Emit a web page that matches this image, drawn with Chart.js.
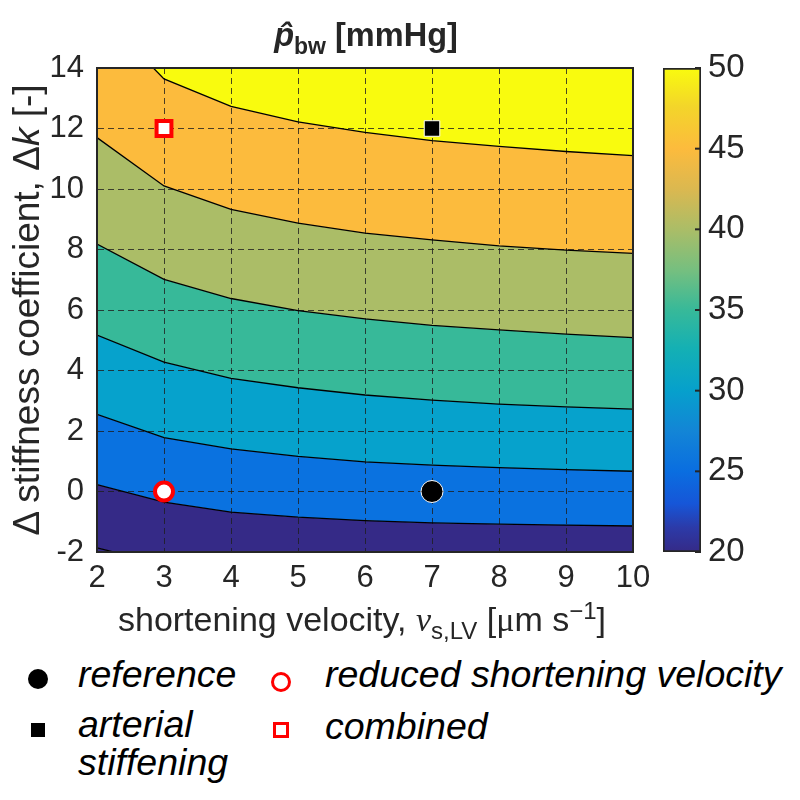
<!DOCTYPE html>
<html>
<head>
<meta charset="utf-8">
<script src="https://cdn.jsdelivr.net/npm/chart.js@4.4.0/dist/chart.umd.min.js"></script>
<style>
  body { margin: 0; width: 800px; height: 800px; position: relative; overflow: hidden; background: #fff;
         font-family: "Liberation Sans", Arial, sans-serif; color: #262626; }
  canvas { position: absolute; }
  .txt { position: absolute; white-space: nowrap; line-height: 1; }
  .serif { font-family: "Liberation Serif", "Times New Roman", serif; }
  .leg { position: absolute; white-space: nowrap; line-height: 1; font-size: 37.5px; font-style: italic; color: #000; }
  .sym { position: absolute; box-sizing: border-box; }
</style>
</head>
<body>
<canvas id="main" width="800" height="640" style="left:0;top:0;width:800px;height:640px"></canvas>
<canvas id="cbar" width="200" height="640" style="left:600px;top:0;width:200px;height:640px"></canvas>

<div class="txt" id="title" style="font-size:32.5px;font-weight:bold;left:366px;top:19px;transform:translateX(-50%)">
  <i>p&#770;</i><sub style="font-size:23px">bw</sub> [mmHg]</div>
<div class="txt" id="xlabel" style="font-size:34px;left:362px;top:599px;transform:translateX(-50%)">
  shortening velocity, <i class="serif">v</i><sub style="font-size:24px">s,LV</sub> [<span class="serif">&mu;</span>m s<sup style="font-size:24px">&minus;1</sup>]</div>
<div class="txt" id="ylabel" style="font-size:37px;left:26px;top:310px;transform:translate(-50%,-50%) rotate(-90deg)">
  &Delta; stiffness coefficient, &Delta;<i>k</i> [-]</div>

<div class="sym" style="left:28px;top:669px;width:20px;height:20px;border-radius:50%;background:#000"></div>
<div class="leg" style="left:78px;top:656px">reference</div>
<div class="sym" style="left:271px;top:672px;width:20px;height:20px;border-radius:50%;border:3.5px solid #f00;background:#fff"></div>
<div class="leg" style="left:325px;top:656px">reduced shortening velocity</div>
<div class="sym" style="left:31px;top:723px;width:14px;height:14px;background:#000"></div>
<div class="leg" style="left:78px;top:706px">arterial<br>stiffening</div>
<div class="sym" style="left:273px;top:722px;width:16px;height:16px;border:3px solid #f00;background:#fff"></div>
<div class="leg" style="left:325px;top:708px">combined</div>

<script>
// grid of shortening velocity values where the contour lines bend
const xGrid = [2, 3, 4, 5, 6, 7, 8, 9, 10];

// contour lines of p_bw (Delta k at each xGrid value)
const level50 = [15.9, 13.64, 12.73, 12.22, 11.87, 11.6, 11.41, 11.24, 11.1];
const level45 = [11.7, 10.1, 9.33, 8.87, 8.54, 8.32, 8.12, 7.98, 7.87];
const level40 = [8.18, 7.01, 6.38, 5.98, 5.71, 5.49, 5.34, 5.2, 5.09];
const level35 = [5.17, 4.28, 3.74, 3.43, 3.19, 3.02, 2.89, 2.8, 2.72];
const level30 = [2.55, 1.78, 1.41, 1.16, 0.98, 0.87, 0.79, 0.72, 0.67];
const level25 = [0.23, -0.35, -0.68, -0.85, -0.96, -1.04, -1.08, -1.11, -1.14];
const level20 = [-1.86, -2.42, -2.8, -3.2, -3.5, -3.7, -3.8, -3.9, -4];
const floorLine = [-5, -5, -5, -5, -5, -5, -5, -5, -5];

// simulated scenarios
const scenarios = ['reference', 'reduced shortening velocity', 'arterial stiffening', 'combined'];
const scenarioX = [7, 3, 7, 3];
const scenarioY = [0, 0, 12, 12];

// colour bar
const cbarRange = [20, 50];
const cbarTicks = [20, 25, 30, 35, 40, 45, 50];

// parula-like colours
const bandColors = {
  50: '#f9fb0e', 45: '#fcbb3d', 40: '#abbd67', 35: '#37b999',
  30: '#06a2cc', 25: '#0a72e0', 20: '#352a87'
};
const parulaStops = [
  [0.00, '#352a87'], [0.05, '#2c3aa8'], [0.10, '#1656d8'], [0.167, '#0a6ee0'],
  [0.25, '#1385d6'], [0.333, '#06a0cc'], [0.42, '#14b0b4'], [0.50, '#37b999'],
  [0.58, '#74bf80'], [0.667, '#abbd67'], [0.75, '#dbb850'], [0.833, '#fcbb3d'],
  [0.92, '#f3d52a'], [1.00, '#f9fb0e']
];

const pts = arr => arr.map((y, i) => ({ x: xGrid[i], y: y }));

function contour(data, color, fill) {
  return {
    data: pts(data), backgroundColor: color, fill: fill,
    borderColor: '#000', borderWidth: 1.3, pointRadius: 0, tension: 0
  };
}

function marker(i, style, fillCol, lineCol, radius, bw) {
  return {
    label: scenarios[i], data: [{ x: scenarioX[i], y: scenarioY[i] }], showLine: false, fill: false,
    pointStyle: style, pointRadius: radius, pointBackgroundColor: fillCol,
    pointBorderColor: lineCol, pointBorderWidth: bw
  };
}

const font = { family: '"Liberation Sans", Arial, sans-serif', size: 31 };
const gridOpts = { color: 'rgba(30,30,30,0.8)', lineWidth: 1, drawTicks: false };

// frame around the plot area
const boxPlugin = {
  id: 'box',
  afterDraw(chart) {
    const a = chart.chartArea, c = chart.ctx;
    c.save();
    c.strokeStyle = '#262626';
    c.lineWidth = 2;
    c.strokeRect(a.left, a.top, a.right - a.left, a.bottom - a.top);
    c.restore();
  }
};

new Chart(document.getElementById('main'), {
  type: 'line',
  data: {
    datasets: [
      marker(0, 'circle', '#000', '#fff', 11, 1),
      marker(1, 'circle', '#fff', '#f00', 9, 4),
      marker(2, 'rect', '#000', '#fff', 11, 1),
      marker(3, 'rect', '#fff', '#f00', 10.5, 4),
      contour(level50, bandColors[50], 'end'),
      contour(level45, bandColors[45], '-1'),
      contour(level40, bandColors[40], '-1'),
      contour(level35, bandColors[35], '-1'),
      contour(level30, bandColors[30], '-1'),
      contour(level25, bandColors[25], '-1'),
      contour(level20, bandColors[20], '-1'),
      contour(floorLine, bandColors[20], '-1')
    ]
  },
  options: {
    responsive: false,
    animation: false,
    layout: { padding: { left: 0, top: 68, right: 167, bottom: 38 } },
    plugins: {
      legend: { display: false },
      tooltip: { enabled: false },
      filler: { drawTime: 'beforeDraw', propagate: false }
    },
    scales: {
      x: {
        type: 'linear', min: 2, max: 10,
        ticks: { stepSize: 1, font: font, color: '#262626', padding: 8, maxRotation: 0 },
        grid: { ...gridOpts },
        border: { display: true, color: '#262626', width: 2, dash: [6, 4] },
        afterFit(s) { s.height = 50; }
      },
      y: {
        type: 'linear', min: -2, max: 14,
        ticks: {
          stepSize: 1, font: font, color: '#262626', padding: 13,
          callback: v => (v % 2 === 0 ? v : '')
        },
        grid: { ...gridOpts },
        border: { display: true, color: '#262626', width: 2, dash: [6, 4] },
        afterFit(s) { s.width = 97; }
      }
    }
  },
  plugins: [boxPlugin]
});

// inward tick marks on the colour bar
const cbarTickPlugin = {
  id: 'cbarTicks',
  afterDraw(chart) {
    const a = chart.chartArea, c = chart.ctx, s = chart.scales.y;
    c.save();
    c.strokeStyle = '#262626';
    c.lineWidth = 2;
    cbarTicks.forEach(v => {
      const y = s.getPixelForValue(v);
      c.beginPath();
      c.moveTo(a.right - 6, y);
      c.lineTo(a.right, y);
      c.stroke();
    });
    c.restore();
  }
};

new Chart(document.getElementById('cbar'), {
  type: 'bar',
  data: {
    labels: ['p'],
    datasets: [{
      data: [cbarRange],
      barPercentage: 1, categoryPercentage: 1,
      borderColor: '#262626', borderWidth: 2, borderSkipped: false,
      backgroundColor(ctx) {
        const a = ctx.chart.chartArea;
        if (!a) return bandColors[20];
        const g = ctx.chart.ctx.createLinearGradient(0, a.bottom, 0, a.top);
        parulaStops.forEach(s => g.addColorStop(s[0], s[1]));
        return g;
      }
    }]
  },
  options: {
    responsive: false,
    animation: false,
    layout: { padding: { left: 63, top: 68, right: 0, bottom: 88 } },
    plugins: { legend: { display: false }, tooltip: { enabled: false } },
    scales: {
      x: { display: false },
      y: {
        position: 'right', min: cbarRange[0], max: cbarRange[1],
        ticks: { stepSize: 5, font: { ...font, size: 33 }, color: '#262626', padding: 7 },
        grid: { display: false, drawTicks: false },
        border: { display: false },
        afterFit(s) { s.width = 99; }
      }
    }
  },
  plugins: [cbarTickPlugin]
});
</script>
</body>
</html>
